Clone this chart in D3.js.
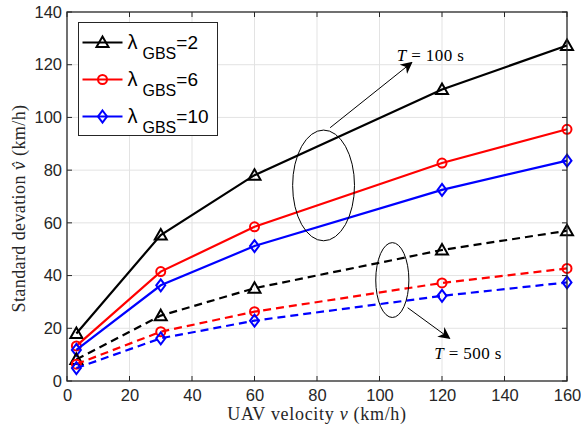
<!DOCTYPE html>
<html>
<head>
<meta charset="utf-8">
<script src="https://cdn.jsdelivr.net/npm/d3@7"></script>
<style>
    body { margin: 0; background: #fff; }
    svg { display: block; }
</style>
</head>
<body>
<svg class="chart" width="581" height="434"></svg>
<script>

// DATA ========================================================================

var VELOCITY = [3, 30, 60, 120, 160];

var T100_L2 = [18, 55.4, 78.1, 110.6, 127.3],
    T100_L6 = [13.3, 41.5, 58.5, 82.7, 95.5],
    T100_L10 = [11.8, 36.3, 51.2, 72.5, 83.6];

var T500_L2 = [8.2, 24.8, 35.2, 49.7, 57],
    T500_L6 = [6.4, 18.7, 26.3, 37.2, 42.7],
    T500_L10 = [4.9, 16.2, 22.9, 32.3, 37.4];

var LAMBDAS = ['2', '6', '10'];
var X_TICKS = [0, 20, 40, 60, 80, 100, 120, 140, 160],
    Y_TICKS = [0, 20, 40, 60, 80, 100, 120, 140];

// CHART =======================================================================

var svg = d3.select(".chart"),
    margin = {top: 12, right: 14, bottom: 53, left: 67},
    width = +svg.attr("width") - margin.left - margin.right,
    height = +svg.attr("height") - margin.top - margin.bottom,
    g = svg.append("g").attr(
        "transform",
        "translate(" + margin.left + "," + margin.top + ")");

var x = d3.scaleLinear().domain([0, 160]).range([0, width]),
    y = d3.scaleLinear().domain([0, 140]).range([height, 0]);

var colors = ['#000000', '#ff0000', '#0000ff'],
    shapes = ['triangle', 'circle', 'diamond'];

var SERIF = "'Liberation Serif', 'Times New Roman', serif",
    SANS = "'Liberation Sans', Arial, sans-serif";

// grid
g.append("g")
    .selectAll("line")
    .data(X_TICKS.slice(1, -1))
    .enter().append("line")
        .attr("x1", function(d) { return x(d); })
        .attr("x2", function(d) { return x(d); })
        .attr("y1", 0)
        .attr("y2", height)
        .attr("stroke", "#e3e3e3")
        .attr("stroke-width", 1);

g.append("g")
    .selectAll("line")
    .data(Y_TICKS.slice(1, -1))
    .enter().append("line")
        .attr("y1", function(d) { return y(d); })
        .attr("y2", function(d) { return y(d); })
        .attr("x1", 0)
        .attr("x2", width)
        .attr("stroke", "#e3e3e3")
        .attr("stroke-width", 1);

// series
var series = [
    {values: T100_L2, k: 0, dash: null},
    {values: T100_L6, k: 1, dash: null},
    {values: T100_L10, k: 2, dash: null},
    {values: T500_L2, k: 0, dash: "8,5"},
    {values: T500_L6, k: 1, dash: "8,5"},
    {values: T500_L10, k: 2, dash: "8,5"}
];

var line = d3.line()
    .x(function(d, i) { return x(VELOCITY[i]); })
    .y(function(d) { return y(d); });

function drawMarker(sel, shape, color, cx, cy) {
    if (shape === 'circle') {
        sel.append("circle")
            .attr("cx", cx).attr("cy", cy).attr("r", 4.5)
            .attr("fill", "none").attr("stroke", color).attr("stroke-width", 2);
    } else if (shape === 'triangle') {
        sel.append("path")
            .attr("d", "M" + cx + "," + (cy - 6) + "L" + (cx + 6) + "," + (cy + 4.5) +
                "L" + (cx - 6) + "," + (cy + 4.5) + "Z")
            .attr("fill", "none").attr("stroke", color).attr("stroke-width", 2)
            .attr("stroke-linejoin", "miter");
    } else {
        sel.append("path")
            .attr("d", "M" + cx + "," + (cy - 6) + "L" + (cx + 4.5) + "," + cy +
                "L" + cx + "," + (cy + 6) + "L" + (cx - 4.5) + "," + cy + "Z")
            .attr("fill", "none").attr("stroke", color).attr("stroke-width", 2);
    }
}

series.forEach(function(s) {
    g.append("path")
        .datum(s.values)
        .attr("fill", "none")
        .attr("stroke", colors[s.k])
        .attr("stroke-width", 2.2)
        .attr("stroke-dasharray", s.dash)
        .attr("d", line);

    var mg = g.append("g");
    s.values.forEach(function(v, i) {
        drawMarker(mg, shapes[s.k], colors[s.k], x(VELOCITY[i]), y(v));
    });
});

// annotations: ellipses + arrows
var defs = svg.append("defs");
defs.append("marker")
    .attr("id", "arrow")
    .attr("viewBox", "0 0 10 10")
    .attr("refX", 9).attr("refY", 5)
    .attr("markerWidth", 12).attr("markerHeight", 12)
    .attr("markerUnits", "userSpaceOnUse")
    .attr("orient", "auto")
    .append("path")
        .attr("d", "M0,0L10,5L0,10L3,5Z")
        .attr("fill", "#000");

g.append("ellipse")
    .attr("cx", x(82.1)).attr("cy", y(74.2))
    .attr("rx", x(9.9) - x(0)).attr("ry", y(0) - y(21))
    .attr("fill", "none").attr("stroke", "#000").attr("stroke-width", 1);

g.append("ellipse")
    .attr("cx", x(104.1)).attr("cy", y(38.3))
    .attr("rx", x(5.3) - x(0)).attr("ry", y(0) - y(14.2))
    .attr("fill", "none").attr("stroke", "#000").attr("stroke-width", 1);

g.append("line")
    .attr("x1", x(84.2)).attr("y1", y(96.1))
    .attr("x2", x(110.3)).attr("y2", y(120.8))
    .attr("stroke", "#000").attr("stroke-width", 1)
    .attr("marker-end", "url(#arrow)");

g.append("line")
    .attr("x1", x(109)).attr("y1", y(27.8))
    .attr("x2", x(122.4)).attr("y2", y(16.2))
    .attr("stroke", "#000").attr("stroke-width", 1)
    .attr("marker-end", "url(#arrow)");

function tLabel(vx, vy, val) {
    var t = g.append("text")
        .attr("x", x(vx)).attr("y", y(vy))
        .attr("font-family", SERIF)
        .attr("font-size", 17)
        .attr("letter-spacing", 0.4)
        .attr("fill", "#000");
    t.append("tspan").attr("font-style", "italic").text("T");
    t.append("tspan").text(" = " + val + " s");
}
tLabel(105.5, 121.5, "100");
tLabel(117.5, 8.5, "500");

// axes box + ticks (inside, all sides)
var axisColor = "#262626";

g.append("rect")
    .attr("width", width).attr("height", height)
    .attr("fill", "none").attr("stroke", axisColor).attr("stroke-width", 1.3);

var tickG = g.append("g").attr("stroke", axisColor).attr("stroke-width", 1);
X_TICKS.forEach(function(d) {
    tickG.append("line").attr("x1", x(d)).attr("x2", x(d)).attr("y1", height).attr("y2", height - 5);
    tickG.append("line").attr("x1", x(d)).attr("x2", x(d)).attr("y1", 0).attr("y2", 5);
});
Y_TICKS.forEach(function(d) {
    tickG.append("line").attr("y1", y(d)).attr("y2", y(d)).attr("x1", 0).attr("x2", 5);
    tickG.append("line").attr("y1", y(d)).attr("y2", y(d)).attr("x1", width).attr("x2", width - 5);
});

var xAxis = g.append("g")
    .attr("transform", "translate(0," + height + ")")
    .call(d3.axisBottom(x).tickValues(X_TICKS).tickSize(0).tickPadding(8));
var yAxis = g.append("g")
    .call(d3.axisLeft(y).tickValues(Y_TICKS).tickSize(0).tickPadding(5));

[xAxis, yAxis].forEach(function(a) {
    a.select(".domain").remove();
    a.selectAll("text")
        .attr("font-family", SANS)
        .attr("font-size", 16.5)
        .attr("fill", axisColor);
});

// axis labels
var xl = svg.append("text")
    .attr("x", margin.left + width / 2)
    .attr("y", 420)
    .attr("text-anchor", "middle")
    .attr("font-family", SERIF)
    .attr("font-size", 18)
    .attr("letter-spacing", 0.7)
    .attr("fill", axisColor);
xl.append("tspan").text("UAV velocity ");
xl.append("tspan").attr("font-style", "italic").text("v");
xl.append("tspan").text(" (km/h)");

var yl = svg.append("text")
    .attr("transform", "translate(25," + (margin.top + height / 2 + 12) + ") rotate(-90)")
    .attr("text-anchor", "middle")
    .attr("font-family", SERIF)
    .attr("font-size", 18)
    .attr("letter-spacing", 0.4)
    .attr("fill", axisColor);
yl.append("tspan").text("Standard devation ");
yl.append("tspan").attr("font-style", "italic")
    .attr("font-family", "'DejaVu Serif', serif").attr("font-size", 16)
    .text("v\u0302");
yl.append("tspan").text(" (km/h)");

// legend
var legend = g.append("g").attr("transform", "translate(11.5,10.5)");
legend.append("rect")
    .attr("width", 139).attr("height", 113)
    .attr("fill", "#fff").attr("stroke", axisColor).attr("stroke-width", 1);

LAMBDAS.forEach(function(lam, i) {
    var row = legend.append("g").attr("transform", "translate(0," + (20 + i * 37) + ")");
    row.append("line")
        .attr("x1", 4).attr("x2", 44).attr("y1", 0).attr("y2", 0)
        .attr("stroke", colors[i]).attr("stroke-width", 2.2);
    drawMarker(row, shapes[i], colors[i], 24, 0);
    var t = row.append("text")
        .attr("x", 49).attr("y", 6)
        .attr("font-family", SANS)
        .attr("fill", "#000");
    t.append("tspan").attr("font-size", 20).text("\u03bb");
    t.append("tspan").attr("font-size", 16).attr("dx", 5).attr("dy", 10).text("GBS");
    t.append("tspan").attr("font-size", 19).attr("dy", -10).text("=" + lam);
});

</script>
</body>
</html>
